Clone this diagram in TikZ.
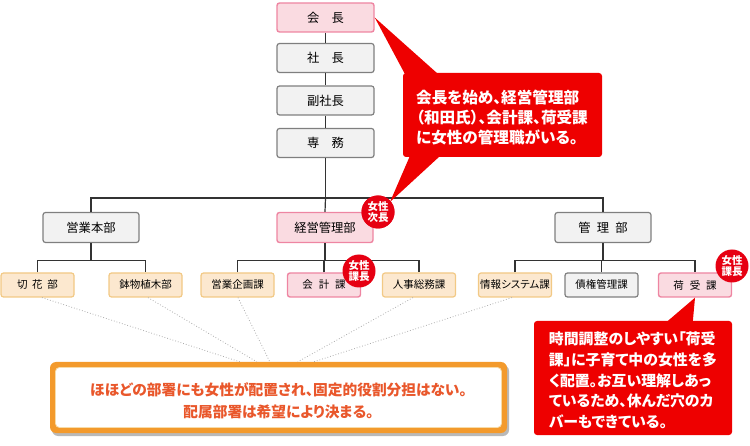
\documentclass[tikz,border=0pt]{standalone}
\usepackage{fontspec}
\setmainfont{Noto Sans CJK JP}
\newfontfamily\paltfont[RawFeature=+palt]{Noto Sans CJK JP}
\usetikzlibrary{calc,shadows}
\definecolor{gfill}{HTML}{F2F2F2}
\definecolor{gline}{HTML}{7F7F7F}
\definecolor{pfill}{HTML}{FADBE1}
\definecolor{pline}{HTML}{EE85A2}
\definecolor{ofill}{HTML}{FCE8CF}
\definecolor{oline}{HTML}{F2C985}
\definecolor{linec}{HTML}{333333}
\definecolor{calred}{HTML}{EE0000}
\definecolor{badgered}{HTML}{E60012}
\definecolor{orfr}{HTML}{F39A2C}
\definecolor{cream}{HTML}{F7DCA9}
\definecolor{ortext}{HTML}{E9572B}
\begin{document}
\begin{tikzpicture}[x=1pt,y=-1pt,
  box/.style={draw, rounded corners=2.5pt, line width=1.2pt, inner sep=0pt, text=black},
  gbox/.style={box, fill=gfill, draw=gline},
  pbox/.style={box, fill=pfill, draw=pline, line width=1.4pt},
  obox/.style={box, fill=ofill, draw=oline},
  toplev/.style={minimum width=97pt, minimum height=29pt, font=\fontsize{12.3}{14}\selectfont},
  midlev/.style={minimum width=96pt, minimum height=30pt, font=\fontsize{12.3}{14}\selectfont},
  lowlev/.style={minimum width=73pt, minimum height=24pt, font=\fontsize{10.5}{12}\selectfont},
  badge/.style={circle, fill=badgered, text=white, inner sep=0pt, minimum size=33pt, align=center,
                font=\bfseries\fontsize{10.5}{11.5}\selectfont},
  conn/.style={draw=linec, line width=1.2pt},
  dots/.style={draw=gray!65, dotted, line width=0.8pt},
  callout/.style={fill=calred, rounded corners=3pt, inner sep=0pt, text=white, align=left},
]
\useasboundingbox (0,0) rectangle (750,446);

% top chain
\node[pbox,toplev] (kaicho) at (325.5,17.5) {会　長};
\node[gbox,toplev] (shacho) at (325.5,58) {社　長};
\node[gbox,toplev] (fuku) at (325.5,100.5) {副社長};
\node[gbox,toplev] (senmu) at (325.5,143) {専　務};

% level 2
\node[gbox,midlev] (eigyo) at (91,227.5) {営業本部};
\node[pbox,midlev] (keiei) at (325,227.5) {経営管理部};
\node[gbox,midlev] (kanri) at (603,227.5) {管\hspace{0.5em}理\hspace{0.5em}部};

% level 3
\node[obox,lowlev] (kiri) at (37.5,285) {切\hspace{0.45em}花\hspace{0.45em}部};
\node[obox,lowlev] (hachi) at (145.5,285) {鉢物植木部};
\node[obox,lowlev] (kikaku) at (237.5,285) {営業企画課};
\node[pbox,lowlev] (kaikei) at (324,285) {会\hspace{0.55em}計\hspace{0.55em}課};
\node[obox,lowlev] (jinji) at (419,285) {人事総務課};
\node[obox,lowlev] (joho) at (515,285) {{\paltfont 情報システム課}};
\node[gbox,lowlev] (saiken) at (601.5,285) {債権管理課};
\node[pbox,lowlev] (niuke) at (695,285) {荷\hspace{0.55em}受\hspace{0.55em}課};

% connectors
\draw[conn] (kaicho) -- (shacho);
\draw[conn] (shacho) -- (fuku);
\draw[conn] (fuku) -- (senmu);
\draw[conn] (senmu.south) -- ++(0,40) coordinate (bus1);
\draw[conn] (eigyo.north) |- (bus1) -| (kanri.north);
\draw[conn] (keiei.north) -- (bus1);

\draw[conn] (eigyo.south) -- ++(0,17.5) coordinate (bus2);
\draw[conn] (kiri.north) |- (bus2) -| (hachi.north);
\draw[conn] (keiei.south) -- ++(0,17.5) coordinate (bus3);
\draw[conn] (kikaku.north) |- (bus3) -| (jinji.north);
\draw[conn] (kaikei.north) -- (kaikei.north |- bus3);
\draw[conn] (kanri.south) -- ++(0,17.5) coordinate (bus4);
\draw[conn] (joho.north) |- (bus4) -| (niuke.north);
\draw[conn] (saiken.north) -- (saiken.north |- bus4);

% orange summary box
\node[fill=orfr, rounded corners=6pt, minimum width=457pt, minimum height=71pt, inner sep=0pt,
      drop shadow={shadow xshift=2pt, shadow yshift=-3pt, fill=gray, opacity=0.55}] (ob) at (278.5,397.5) {};
\node[fill=white, draw=cream, line width=0.8pt, rounded corners=4pt, minimum width=446pt, minimum height=60pt, inner sep=0pt] (obin) at (ob.center) {};
\node[text=ortext, align=center, font=\paltfont\bfseries\fontsize{14.7}{22}\selectfont] (obtext) at (278.5,401)
  {ほほどの部署にも女性が配置され、固定的役割分担はない。\\配属部署は希望により決まる。};

% dotted lines
\coordinate (d1) at ($(ob.north west)+(190,0)$);
\coordinate (d2) at ($(ob.north west)+(207,0)$);
\coordinate (d3) at ($(ob.north west)+(220,0)$);
\coordinate (d4) at ($(ob.north west)+(248,0)$);
\coordinate (d5) at ($(ob.north west)+(264,0)$);
\draw[dots] ([xshift=4.5pt]kiri.south) -- (d1);
\draw[dots] ([xshift=2.5pt]hachi.south) -- (d2);
\draw[dots] ([xshift=0.5pt]kikaku.south) -- (d3);
\draw[dots] ([xshift=-6pt]jinji.south) -- (d4);
\draw[dots] ([xshift=-3pt]joho.south) -- (d5);

% callout 1
\node[callout, minimum width=199pt, minimum height=84pt] (c1) at (502.5,115) {};
\fill[calred] ($(c1.north west)+(2,1)$) -- (kaicho.east) -- ($(c1.north west)+(35,1)$) -- cycle;
\node[text=white, align=left, font=\paltfont\bfseries\fontsize{15.6}{20}\selectfont] (c1text) at (502,118)
  {会長を始め、経営管理部\\（和田氏）、会計課、荷受課\\に女性の管理職がいる。};

% callout 2
\node[callout, minimum width=198pt, minimum height=114pt] (c2) at (633,378) {};
\fill[calred] ($(c2.north west)+(133,1)$) -- (niuke.south) -- ($(c2.north west)+(159,1)$) -- cycle;
\node[text=white, align=left, font=\paltfont\bfseries\fontsize{14.9}{20.7}\selectfont] (c2text) at (633,380.5)
  {時間調整のしやすい「荷受\\課」に子育て中の女性を多\\く配置。お互い理解しあっ\\ているため、休んだ穴のカ\\バーもできている。};

% badges
\node[badge] (b1) at (378,212) {女性\\次長};
\fill[calred] ($(c1.south west)+(7,-1)$) -- ($(b1.center)+(12,-10)$) -- ($(c1.south west)+(37,-1)$) -- cycle;
\node[badge] (b1) at (378,212) {女性\\次長};
\node[badge] (b2) at (359,271) {女性\\課長};
\node[badge] (b3) at (732,266) {女性\\課長};
\end{tikzpicture}
\end{document}
